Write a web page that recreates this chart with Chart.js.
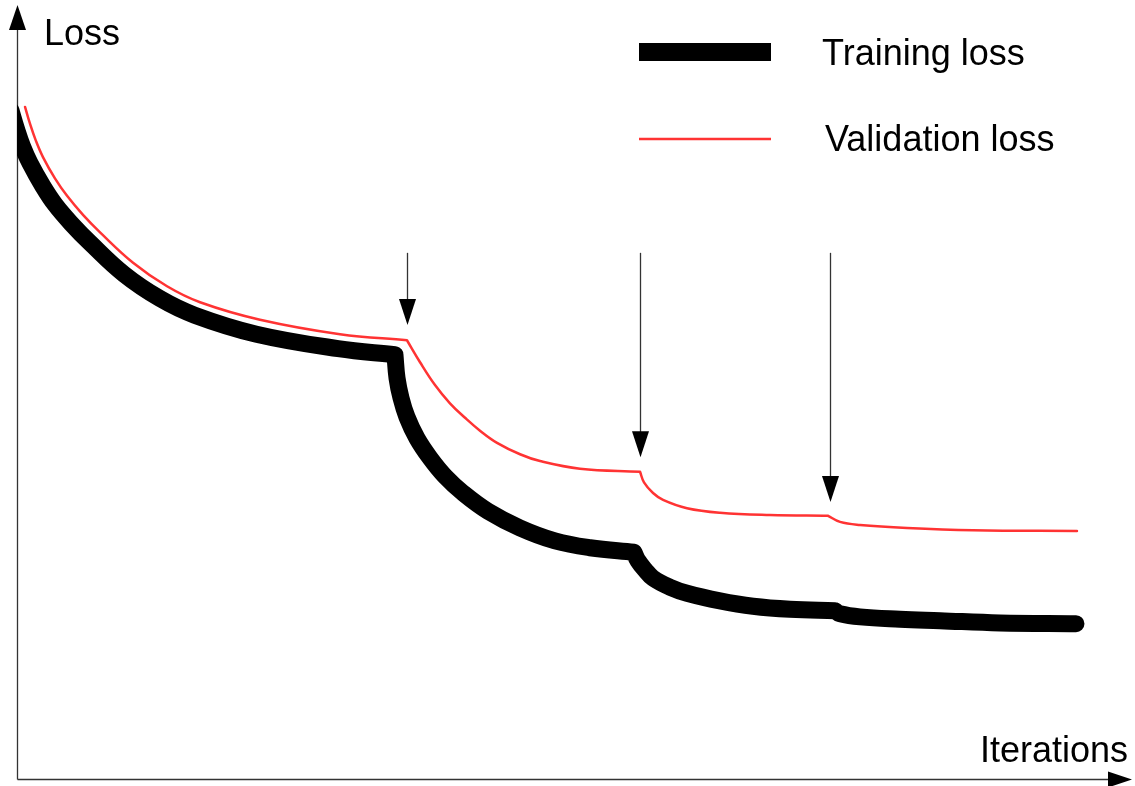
<!DOCTYPE html>
<html>
<head>
<meta charset="utf-8">
<script src="https://cdn.jsdelivr.net/npm/chart.js@4.4.1/dist/chart.umd.min.js"></script>
<style>
html, body { margin: 0; padding: 0; background: #ffffff; }
canvas { display: block; }
</style>
</head>
<body>
<canvas id="chart" width="1135" height="786"></canvas>
<script>
// ---- Data (iterations and loss in arbitrary units; null = break at a learning-rate step) ----
const trainingIter = [
  -0.54, -0.07, 0.5, 1.18, 2.34, 3.49, 5.03, 6.65, 9.72, 12.98, 16.15, 21.77, 29.19, 34.36,
  null,
  34.36, 34.55, 34.91, 35.45, 36.36, 37.55, 38.91, 40.55, 42.82, 45.73, 48.91, 52.09, 56.09,
  null,
  56.09, 56.45, 57.09, 57.82, 59.36, 60.91, 63.91, 66.91, 70.27, 74.36,
  null,
  74.36, 74.82, 76.64, 80.27, 83.91, 89.36, 96.27
];
const trainingLoss = [
  8.78, 8.55, 8.31, 8.09, 7.79, 7.54, 7.28, 7.04, 6.63, 6.31, 6.09, 5.84, 5.65, 5.57,
  null,
  5.57, 5.26, 5.00, 4.75, 4.47, 4.21, 3.97, 3.75, 3.51, 3.29, 3.12, 3.03, 2.97,
  null,
  2.97, 2.86, 2.74, 2.63, 2.51, 2.43, 2.33, 2.26, 2.22, 2.20,
  null,
  2.20, 2.16, 2.12, 2.09, 2.07, 2.04, 2.03
];
const validationIter = [
  0.73, 1.18, 1.73, 2.36, 3.45, 4.55, 6.0, 7.55, 10.55, 13.64, 16.64, 22.09, 29.36, 35.45,
  null,
  35.45, 36.64, 38.0, 39.36, 40.73, 42.09, 43.64, 45.73, 47.55, 51.18, 56.64,
  null,
  56.64, 57.0, 57.82, 58.73, 60.91, 63.91, 68.45, 73.73,
  null,
  73.73, 74.82, 76.64, 80.91, 86.91, 96.36
];
const validationLoss = [
  8.83, 8.61, 8.38, 8.17, 7.89, 7.66, 7.41, 7.18, 6.78, 6.47, 6.26, 6.03, 5.84, 5.76,
  null,
  5.76, 5.47, 5.17, 4.93, 4.74, 4.57, 4.41, 4.26, 4.17, 4.07, 4.03,
  null,
  4.03, 3.89, 3.75, 3.66, 3.55, 3.49, 3.46, 3.45,
  null,
  3.45, 3.37, 3.33, 3.29, 3.26, 3.25
];
// learning-rate step markers (down arrows)
const stepIter = [35.43, 56.64, 73.91];
const arrowTipLoss = [5.96, 4.22, 3.63];
const arrowTailLoss = 6.91;

const seriesNames = ['Training loss', 'Validation loss'];
const xAxisTitle = 'Iterations';
const yAxisTitle = 'Loss';

const FONT = '36px "Liberation Sans", Arial, sans-serif';
const TRAIN_COLOR = '#000000';
const VAL_COLOR = '#ff3333';

function toPoints(xs, ys) {
  return xs.map((x, i) => ({ x: x, y: ys[i] }));
}

const decor = {
  id: 'decor',
  beforeDatasetsDraw(chart) {
    const { ctx, chartArea: a } = chart;
    ctx.save();
    // axes with arrow heads
    const x0 = a.left + 0.5;
    const y0 = a.bottom + 1.5;
    ctx.strokeStyle = '#333333';
    ctx.lineWidth = 1.3;
    ctx.beginPath();
    ctx.moveTo(x0, y0);
    ctx.lineTo(x0, 28);
    ctx.moveTo(x0, y0);
    ctx.lineTo(1110, y0);
    ctx.stroke();
    ctx.fillStyle = '#000000';
    ctx.beginPath();
    ctx.moveTo(x0, 5);
    ctx.lineTo(x0 - 8.5, 30);
    ctx.lineTo(x0 + 8.5, 30);
    ctx.closePath();
    ctx.fill();
    ctx.beginPath();
    ctx.moveTo(1132, y0);
    ctx.lineTo(1108, y0 - 8);
    ctx.lineTo(1108, y0 + 8);
    ctx.closePath();
    ctx.fill();

    // step arrows
    const xs = chart.scales.x, ys = chart.scales.y;
    stepIter.forEach((it, i) => {
      const px = Math.round(xs.getPixelForValue(it)) + 0.5;
      const tip = ys.getPixelForValue(arrowTipLoss[i]);
      const tail = ys.getPixelForValue(arrowTailLoss);
      ctx.strokeStyle = '#333333';
      ctx.lineWidth = 1.3;
      ctx.beginPath();
      ctx.moveTo(px, tail);
      ctx.lineTo(px, tip - 22);
      ctx.stroke();
      ctx.fillStyle = '#000000';
      ctx.beginPath();
      ctx.moveTo(px, tip);
      ctx.lineTo(px - 8.5, tip - 26);
      ctx.lineTo(px + 8.5, tip - 26);
      ctx.closePath();
      ctx.fill();
    });

    // axis titles
    ctx.font = FONT;
    ctx.fillStyle = '#000000';
    ctx.textBaseline = 'alphabetic';
    ctx.textAlign = 'left';
    ctx.fillText(yAxisTitle, 44, 45);
    ctx.fillText(xAxisTitle, 980, 762);

    // legend
    ctx.lineCap = 'butt';
    ctx.strokeStyle = TRAIN_COLOR;
    ctx.lineWidth = 18;
    ctx.beginPath();
    ctx.moveTo(639, 52);
    ctx.lineTo(771, 52);
    ctx.stroke();
    ctx.strokeStyle = VAL_COLOR;
    ctx.lineWidth = 2.5;
    ctx.beginPath();
    ctx.moveTo(639, 139);
    ctx.lineTo(771, 139);
    ctx.stroke();
    ctx.fillStyle = '#000000';
    ctx.fillText(seriesNames[0], 822, 65);
    ctx.fillText(seriesNames[1], 825, 151);
    ctx.restore();
  }
};

new Chart(document.getElementById('chart'), {
  type: 'line',
  data: {
    datasets: [
      {
        label: seriesNames[1],
        data: toPoints(validationIter, validationLoss),
        borderColor: VAL_COLOR,
        borderWidth: 2.5,
        borderCapStyle: 'round',
        borderJoinStyle: 'round',
        tension: 0.4,
        pointRadius: 0,
        spanGaps: false,
        fill: false,
        clip: { left: 0, top: false, right: false, bottom: false }
      },
      {
        label: seriesNames[0],
        data: toPoints(trainingIter, trainingLoss),
        borderColor: TRAIN_COLOR,
        borderWidth: 17,
        borderCapStyle: 'round',
        borderJoinStyle: 'round',
        tension: 0.4,
        pointRadius: 0,
        spanGaps: false,
        fill: false,
        clip: { left: 0, top: false, right: false, bottom: false }
      }
    ]
  },
  options: {
    responsive: false,
    animation: false,
    devicePixelRatio: 1,
    layout: { padding: { left: 17, right: 18, top: 18, bottom: 8 } },
    scales: {
      x: { type: 'linear', min: 0, max: 100, display: false },
      y: { type: 'linear', min: 0, max: 10, display: false }
    },
    plugins: {
      legend: { display: false },
      tooltip: { enabled: false },
      title: { display: false }
    },
    events: []
  },
  plugins: [decor]
});
</script>
</body>
</html>
